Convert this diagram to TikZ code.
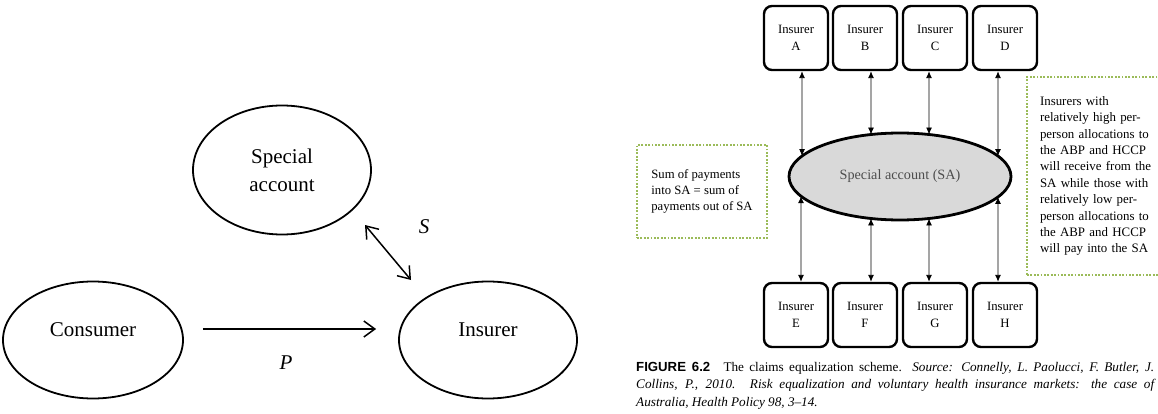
\documentclass[tikz,border=0pt]{standalone}
\usepackage{fontspec}
\setmainfont{Liberation Serif}
\setsansfont{Liberation Sans}
\usetikzlibrary{shapes.geometric,arrows.meta,intersections}
\definecolor{notegreen}{HTML}{9BBB59}
\definecolor{poolgray}{HTML}{D9D9D9}
\definecolor{pooltext}{HTML}{4D4D4D}

\begin{document}
\begin{tikzpicture}[x=1pt,y=-1pt]
	\tikzset{
		barb/.tip={Straight Barb[length=11pt,width=16pt]},
		sharp/.tip={Latex[length=7pt,width=6pt]},
		party/.style={ellipse,draw,line width=1.8pt,align=center,inner sep=0pt,font=\fontsize{21}{28}\selectfont},
		flow/.style={line width=1.5pt},
		sym/.style={font=\fontsize{21}{24}\selectfont\itshape},
		insurer/.style={rectangle,rounded corners=8pt,draw,line width=2.4pt,minimum width=64pt,minimum height=64pt,align=center,inner sep=0pt,font=\fontsize{12.7}{17}\selectfont},
		pool/.style={ellipse,draw,line width=2.8pt,fill=poolgray,text=pooltext,font=\fontsize{14.2}{17}\selectfont},
		link/.style={line width=0.9pt,sharp-sharp},
		note/.style={rectangle,draw=notegreen,line width=2.6pt,dash pattern=on 1.8pt off 1.6pt,align=left,font=\fontsize{12.7}{16}\selectfont}
	}
	\useasboundingbox (0,0) rectangle (1158,414);

	% left: consumer, insurer and special account
	\node[party,minimum width=180pt,minimum height=117pt,text depth=20pt] (cons) at (93,340) {Consumer};
	\node[party,minimum width=178pt,minimum height=117pt,text depth=20pt] (ins) at (488,340) {Insurer};
	\node[party,minimum width=178pt,minimum height=129pt] (spec) at (282,170) {Special\\account};
	\draw[flow,-barb,shorten <=19pt,shorten >=22pt] ([yshift=11pt]cons.east) -- ([yshift=11pt]cons.east -| ins.west);
	\node[sym] (p) at (286,363) {P};
	\coordinate (s1) at (365,225);
	\coordinate (s2) at (411,280);
	\draw[flow,barb-barb] (s1) -- (s2);
	\node[sym] (s) at (424,227) {S};

	% right: claims equalization
	\node[pool,minimum width=222pt,minimum height=87pt,name path=sa] (sa) at (900,176.5) {Special account (SA)};
	\foreach \b/\x/\dx in {A/796/6,B/865/6,C/935/-6,D/1005/-7} {
		\node[insurer] (\b) at (\x,38) {Insurer\\\b};
		\path[name path=v\b] ([xshift=\dx pt]\b.south) -- ++(0,100);
		\draw[link,name intersections={of=sa and v\b,by=t\b}] ([xshift=\dx pt]\b.south) -- (t\b);
	}
	\foreach \b/\x/\dx in {E/796/5,F/865/6,G/935/-6,H/1005/-7} {
		\node[insurer] (\b) at (\x,315) {Insurer\\\b};
		\path[name path=v\b] ([xshift=\dx pt]\b.north) -- ++(0,-100);
		\draw[link,name intersections={of=sa and v\b,by=t\b}] ([xshift=\dx pt]\b.north) -- (t\b);
	}
	\node[note,minimum width=130pt,minimum height=93pt] (sum) at (702,191.5) {Sum of payments\\into SA = sum of\\payments out of SA};
	\node[note,minimum width=160pt,minimum height=198pt,text width=134pt,font=\fontsize{12.9}{16.4}\selectfont] (rule) at (1107,176) {Insurers with\\relatively high per-\\person allocations to\\the ABP and HCCP\\will receive from the\\SA while those with\\relatively low per-\\person allocations to\\the ABP and HCCP\\will pay into the SA};

	% caption
	\node[anchor=north west,inner sep=0pt,align=left,font=\fontsize{13.2}{17.5}\selectfont] (cap) at (636,362)
		{\hbox to 518pt{{\sffamily\bfseries FIGURE 6.2}\quad The claims equalization scheme. \textit{Source: Connelly, L. Paolucci, F. Butler, J.}}\\
		\hbox to 518pt{\itshape Collins, P., 2010. Risk equalization and voluntary health insurance markets: the case of}\\
		\textit{Australia, Health Policy 98, 3--14.}};
\end{tikzpicture}
\end{document}
